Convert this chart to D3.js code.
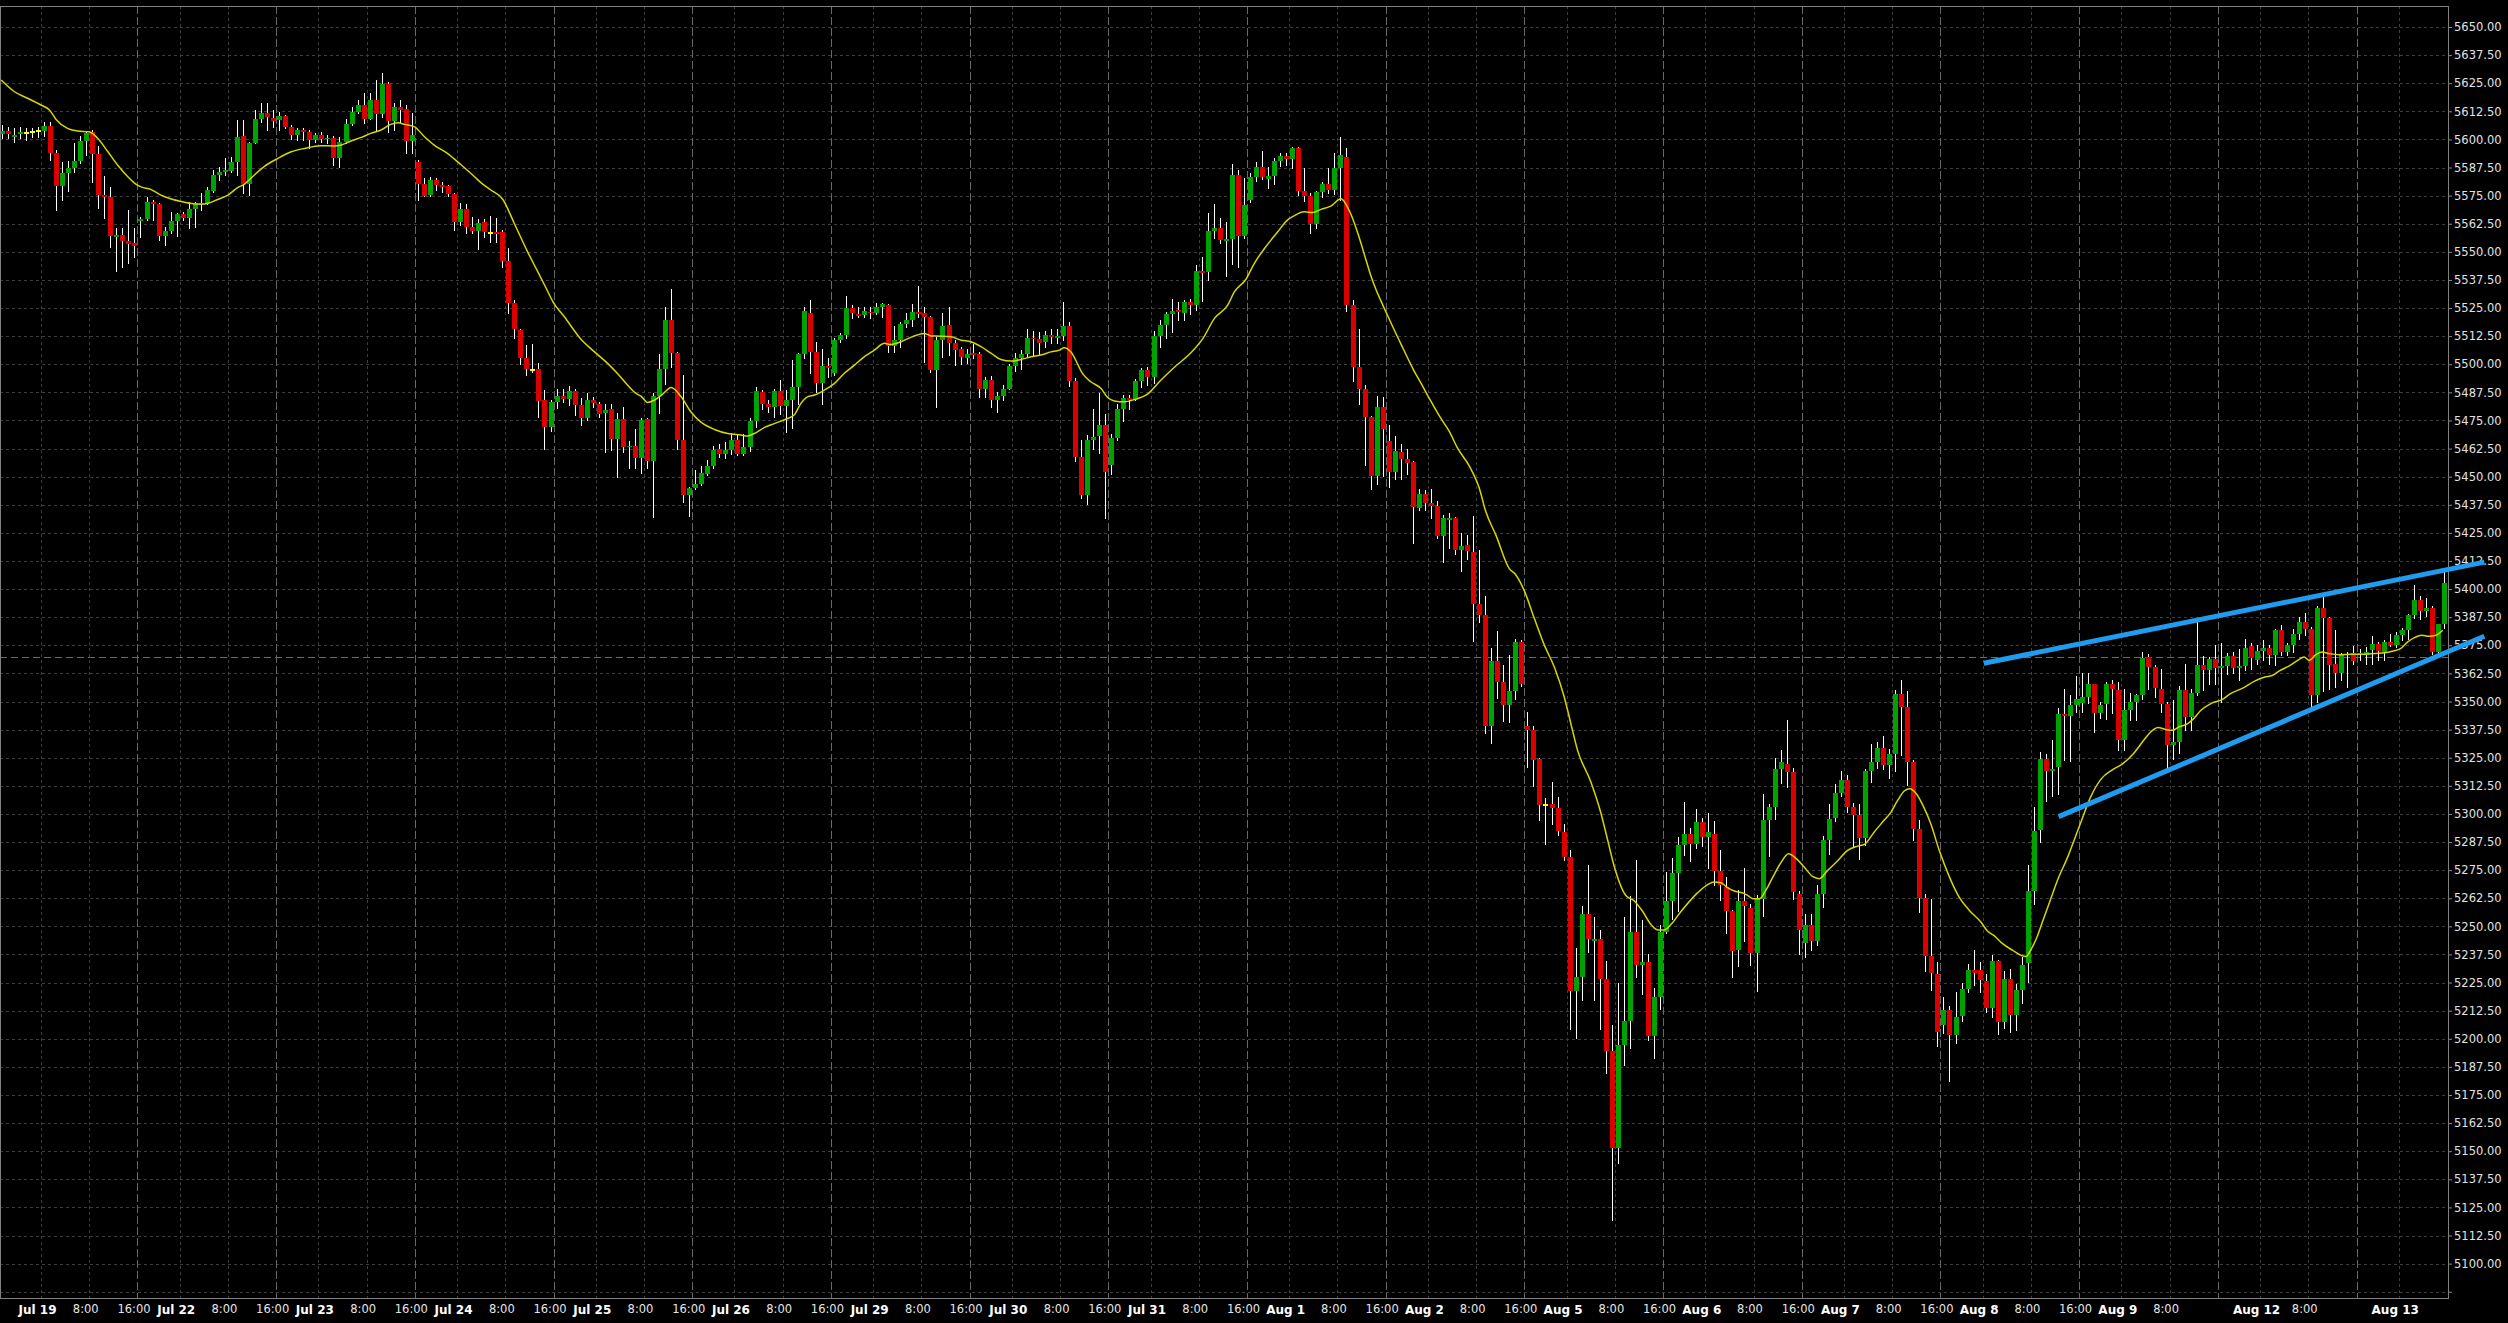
<!DOCTYPE html>
<html><head><meta charset="utf-8">
<script src="https://cdn.jsdelivr.net/npm/d3@7"></script>
<style>
html,body{margin:0;padding:0;background:#000;overflow:hidden;}
svg{display:block;}
</style></head><body>
<script>
// ---- DATA (hourly bars, first visible bar = Jul 18 late session) ----
const opens = [
5602.4,5603.9,5601.2,5602.4,5603.0,5603.1,5603.6,5603.9,5605.9,5593.8,
5579.2,5585.2,5587.4,5590.4,5599.3,5603.3,5593.5,5575.2,5574.5,5556.7,
5557.4,5554.8,5554.0,5563.7,5564.6,5572.3,5571.2,5557.1,5559.2,5563.7,
5566.8,5565.2,5569.0,5571.2,5571.8,5577.2,5584.1,5585.3,5586.1,5590.1,
5601.5,5580.1,5598.5,5609.1,5611.9,5609.5,5608.6,5610.4,5605.7,5601.9,
5604.2,5603.4,5599.7,5601.9,5600.0,5600.8,5591.9,5599.0,5606.8,5612.0,
5615.3,5609.1,5617.5,5611.3,5624.6,5608.3,5614.3,5613.4,5599.4,5590.1,
5580.1,5575.2,5581.9,5579.7,5579.2,5575.7,5563.4,5569.0,5561.2,5559.2,
5563.1,5558.5,5558.9,5558.9,5546.0,5527.3,5515.2,5502.9,5497.4,5498.1,
5484.0,5472.2,5483.0,5486.1,5484.6,5488.0,5481.8,5476.2,5484.3,5482.5,
5478.5,5480.0,5466.7,5475.6,5463.3,5463.8,5458.4,5475.6,5457.0,5486.1,
5497.8,5519.6,5505.1,5466.5,5441.8,5445.0,5446.6,5451.4,5454.6,5462.1,
5460.3,5461.8,5466.2,5460.0,5463.3,5474.8,5487.7,5482.5,5480.8,5488.0,
5481.5,5484.0,5489.7,5504.4,5523.0,5505.5,5491.7,5499.1,5496.3,5510.7,
5512.9,5525.1,5522.3,5522.1,5523.3,5522.9,5525.6,5526.3,5508.2,5511.0,
5518.1,5519.6,5523.2,5522.9,5520.8,5497.4,5510.7,5517.4,5509.5,5506.6,
5502.9,5504.8,5504.5,5489.2,5492.9,5484.3,5485.8,5489.2,5499.1,5503.0,
5504.5,5511.9,5511.2,5510.0,5512.9,5511.9,5512.5,5516.9,5492.5,5458.8,
5441.7,5466.5,5468.0,5472.9,5455.1,5467.4,5480.3,5485.2,5484.3,5492.5,
5497.4,5494.4,5512.5,5517.4,5522.3,5524.1,5522.9,5527.9,5526.4,5541.4,
5541.0,5559.2,5560.4,5554.9,5555.6,5584.1,5557.0,5573.0,5583.1,5587.6,
5582.2,5583.7,5590.4,5592.6,5591.3,5596.0,5577.2,5574.8,5562.6,5576.4,
5580.0,5577.5,5587.1,5592.0,5526.3,5498.9,5488.8,5476.6,5450.2,5480.8,
5465.8,5452.1,5461.0,5458.0,5456.4,5436.2,5442.3,5438.5,5436.9,5423.5,
5430.8,5431.5,5417.6,5419.7,5416.4,5393.3,5388.6,5339.1,5367.9,5358.7,
5348.6,5354.9,5376.4,5339.1,5337.3,5324.3,5303.8,5304.3,5302.6,5292.0,
5280.9,5221.4,5227.3,5255.5,5243.7,5244.4,5226.8,5194.7,5151.4,5197.1,
5207.7,5247.3,5232.7,5234.3,5201.3,5218.5,5247.7,5261.4,5273.9,5286.1,
5291.3,5286.6,5296.3,5289.7,5291.2,5274.6,5267.5,5256.8,5239.3,5261.5,
5258.3,5238.1,5262.3,5297.1,5303.1,5319.8,5322.3,5318.6,5264.5,5242.5,
5250.4,5243.7,5264.2,5288.2,5298.3,5309.4,5314.9,5303.1,5299.4,5289.3,
5319.1,5323.1,5329.3,5321.6,5326.5,5353.2,5347.6,5323.1,5293.1,5262.6,
5236.9,5228.9,5206.3,5212.9,5201.9,5210.3,5222.2,5230.4,5230.4,5225.9,
5213.6,5234.4,5207.4,5226.4,5210.4,5221.5,5233.6,5265.9,5292.7,5324.3,
5319.1,5320.9,5344.6,5343.5,5348.3,5349.3,5352.0,5357.6,5344.9,5348.8,
5357.6,5355.3,5333.0,5346.1,5349.8,5352.7,5369.8,5365.3,5355.7,5349.0,
5330.5,5332.0,5355.0,5343.1,5353.9,5366.1,5363.9,5368.8,5365.0,5365.6,
5370.1,5365.0,5365.6,5374.5,5368.6,5372.3,5373.8,5370.5,5381.7,5372.0,
5375.0,5380.2,5385.4,5382.4,5352.7,5391.6,5387.3,5366.5,5362.7,5371.0,
5371.6,5371.6,5370.5,5372.8,5375.7,5372.0,5376.5,5375.0,5379.4,5381.7,
5388.3,5395.0,5390.3,5391.6,5372.0,5384.3];
const highs = [
5606.4,5605.7,5604.9,5605.7,5604.9,5604.9,5605.7,5607.9,5607.9,5595.3,
5590.1,5590.5,5598.2,5601.5,5603.4,5604.2,5597.0,5583.7,5578.9,5560.4,
5560.4,5568.6,5560.4,5565.6,5574.5,5573.0,5571.8,5561.2,5567.8,5567.1,
5567.8,5572.3,5572.3,5576.0,5578.9,5586.4,5587.9,5591.6,5592.3,5608.6,
5608.6,5599.0,5613.1,5616.0,5616.0,5613.1,5612.3,5610.8,5606.4,5604.9,
5604.9,5604.2,5602.7,5603.4,5601.9,5601.5,5601.2,5609.3,5614.6,5617.5,
5620.5,5620.5,5626.4,5629.7,5625.7,5616.0,5617.5,5615.3,5611.6,5590.8,
5582.7,5583.1,5582.7,5581.2,5579.7,5576.3,5571.5,5571.2,5565.6,5564.4,
5564.4,5565.9,5565.0,5559.7,5551.5,5528.8,5515.9,5508.5,5509.2,5500.6,
5488.5,5484.3,5489.2,5489.2,5490.2,5489.2,5485.2,5487.0,5485.5,5483.3,
5482.5,5482.5,5478.4,5480.8,5465.8,5471.4,5475.9,5476.3,5487.0,5504.4,
5525.3,5533.4,5505.5,5495.1,5445.5,5452.9,5454.6,5457.6,5463.6,5464.4,
5465.5,5469.5,5468.4,5469.2,5475.9,5489.9,5488.5,5484.3,5488.8,5492.9,
5488.5,5501.8,5505.1,5525.3,5528.5,5510.0,5506.7,5502.6,5511.5,5513.7,
5530.3,5526.3,5525.6,5525.6,5525.3,5527.3,5527.3,5526.7,5516.9,5518.9,
5522.6,5527.0,5534.7,5525.3,5521.4,5512.2,5522.6,5525.6,5510.7,5507.8,
5506.6,5509.2,5505.5,5494.4,5494.7,5487.7,5490.7,5500.3,5504.8,5506.3,
5515.5,5514.9,5514.3,5514.9,5515.5,5515.5,5527.8,5518.7,5494.1,5466.2,
5468.4,5479.9,5487.0,5477.8,5469.2,5482.2,5486.2,5486.2,5493.5,5498.3,
5498.6,5514.9,5519.6,5523.3,5529.0,5527.8,5528.5,5529.0,5544.1,5547.8,
5567.1,5571.2,5564.9,5563.4,5588.9,5586.4,5582.7,5584.9,5590.1,5594.8,
5587.6,5591.6,5593.8,5593.8,5596.8,5596.5,5587.1,5576.0,5577.2,5581.2,
5587.1,5594.1,5601.2,5596.0,5528.8,5515.6,5490.7,5477.0,5485.8,5485.5,
5472.9,5468.0,5464.4,5462.5,5457.0,5444.4,5444.0,5444.7,5439.3,5432.9,
5433.8,5432.2,5425.1,5423.9,5432.7,5417.6,5396.9,5374.0,5381.5,5366.2,
5370.5,5378.0,5377.5,5345.5,5339.1,5325.0,5306.9,5314.4,5307.4,5295.6,
5283.8,5240.2,5259.0,5277.4,5254.3,5248.4,5234.8,5206.0,5224.9,5254.3,
5263.3,5279.5,5252.7,5237.8,5222.5,5250.8,5274.4,5280.3,5289.7,5305.4,
5293.7,5302.2,5298.4,5300.4,5296.7,5284.1,5271.9,5257.1,5266.0,5276.1,
5260.0,5263.8,5309.0,5304.3,5325.0,5328.6,5341.6,5320.6,5265.7,5255.6,
5255.6,5268.6,5290.0,5304.5,5313.4,5319.1,5317.2,5304.8,5304.3,5320.1,
5330.9,5332.0,5334.5,5329.0,5355.0,5359.5,5354.7,5323.8,5297.1,5264.5,
5262.3,5234.1,5218.8,5214.4,5220.7,5224.7,5233.4,5239.6,5234.1,5228.9,
5237.1,5235.1,5230.1,5231.1,5224.4,5236.3,5277.1,5303.1,5327.5,5326.8,
5332.7,5347.3,5355.7,5352.7,5361.2,5362.7,5362.7,5357.9,5349.8,5358.7,
5359.7,5358.7,5355.7,5353.8,5353.5,5372.0,5371.3,5366.1,5364.6,5349.8,
5350.5,5356.8,5366.5,5355.7,5385.4,5370.1,5369.8,5375.0,5376.0,5371.6,
5372.0,5373.5,5378.0,5376.0,5375.0,5377.2,5375.0,5382.4,5383.9,5376.0,
5382.4,5387.6,5389.4,5383.1,5392.4,5396.5,5387.6,5381.7,5371.6,5372.0,
5374.5,5373.5,5374.2,5379.0,5376.5,5377.2,5380.2,5380.9,5382.9,5389.1,
5401.7,5396.8,5396.2,5392.4,5384.6,5408.4];
const lows = [
5600.5,5600.5,5599.0,5600.5,5599.7,5600.9,5601.2,5601.5,5590.8,5568.6,
5573.0,5577.2,5585.6,5589.3,5593.0,5581.2,5569.6,5564.9,5552.3,5541.6,
5543.4,5545.2,5547.8,5556.7,5564.1,5564.1,5555.2,5553.0,5558.2,5557.0,
5564.1,5560.4,5561.2,5568.6,5571.2,5576.7,5581.9,5584.1,5585.6,5584.1,
5576.3,5575.2,5598.2,5607.9,5604.2,5605.7,5604.2,5604.9,5600.0,5599.7,
5599.7,5596.0,5599.0,5599.0,5598.2,5588.6,5587.9,5598.2,5606.4,5611.6,
5607.1,5609.0,5604.2,5610.1,5603.4,5604.2,5607.1,5594.1,5593.8,5573.0,
5574.8,5574.8,5577.5,5576.7,5574.8,5559.7,5561.9,5558.2,5558.5,5551.2,
5556.7,5554.5,5554.5,5543.4,5522.6,5511.5,5500.3,5495.2,5496.6,5476.6,
5462.1,5470.4,5480.6,5483.0,5481.8,5477.3,5472.9,5475.1,5481.1,5476.6,
5461.0,5461.8,5449.9,5461.0,5453.9,5453.9,5451.6,5453.9,5432.1,5478.4,
5491.0,5498.9,5462.5,5438.8,5432.5,5444.7,5446.2,5450.6,5453.9,5458.8,
5458.5,5460.3,5459.5,5459.5,5461.5,5472.2,5480.3,5478.8,5476.6,5478.1,
5470.0,5471.7,5482.5,5502.6,5495.9,5487.7,5482.5,5494.4,5495.1,5509.9,
5511.5,5520.4,5521.1,5520.8,5520.4,5522.3,5521.1,5505.5,5505.5,5507.5,
5516.6,5517.0,5521.1,5501.1,5496.6,5481.0,5503.3,5504.1,5499.6,5500.0,
5500.6,5502.6,5485.5,5485.5,5480.8,5478.8,5484.3,5488.8,5497.1,5498.1,
5503.6,5504.1,5504.5,5507.8,5509.5,5509.5,5510.7,5490.2,5457.0,5440.6,
5438.0,5462.1,5460.6,5431.7,5451.4,5466.2,5474.7,5480.3,5484.3,5489.9,
5490.7,5491.7,5507.5,5511.5,5514.3,5519.6,5519.9,5522.3,5524.1,5528.2,
5537.4,5556.0,5554.0,5539.2,5544.8,5543.3,5556.0,5572.3,5581.6,5582.2,
5578.2,5580.2,5588.2,5588.6,5587.1,5575.2,5572.7,5558.5,5560.4,5574.5,
5576.0,5575.7,5573.0,5523.8,5492.6,5482.5,5455.1,5444.7,5446.9,5450.2,
5445.5,5449.1,5449.1,5451.1,5420.4,5435.3,5435.0,5431.7,5422.8,5412.2,
5418.1,5415.7,5408.2,5413.3,5376.8,5385.5,5336.1,5331.4,5351.6,5341.5,
5341.0,5350.9,5356.8,5321.0,5312.5,5297.4,5286.6,5295.6,5290.8,5279.5,
5204.2,5200.2,5217.4,5238.5,5217.4,5204.2,5184.8,5119.3,5144.8,5188.4,
5196.1,5227.3,5219.7,5199.4,5191.4,5213.1,5247.0,5253.2,5256.7,5281.9,
5279.1,5284.9,5285.7,5276.0,5268.6,5261.8,5247.0,5227.4,5232.2,5243.4,
5232.6,5221.2,5254.4,5281.1,5297.9,5313.7,5312.0,5262.3,5237.8,5236.3,
5239.6,5241.5,5258.6,5282.0,5296.8,5307.8,5300.8,5285.3,5279.8,5286.4,
5314.2,5320.6,5320.1,5316.1,5319.1,5326.1,5312.7,5288.2,5256.3,5230.1,
5221.8,5196.7,5202.5,5181.1,5198.0,5207.8,5220.7,5224.1,5220.7,5211.8,
5209.9,5202.2,5204.9,5202.9,5203.9,5215.8,5225.2,5259.8,5287.5,5305.7,
5307.8,5309.0,5323.8,5323.5,5345.3,5345.3,5349.3,5336.4,5342.8,5342.4,
5344.9,5328.3,5328.6,5341.9,5341.9,5351.3,5355.7,5352.0,5345.3,5320.8,
5324.6,5327.1,5337.2,5337.5,5352.7,5355.0,5358.0,5358.0,5349.8,5362.1,
5362.7,5359.7,5363.9,5364.6,5366.8,5368.3,5366.5,5366.1,5370.5,5370.5,
5372.0,5377.9,5379.4,5347.9,5349.8,5354.7,5355.7,5356.4,5359.4,5356.4,
5366.5,5368.3,5366.5,5366.8,5368.3,5368.6,5374.5,5374.2,5377.5,5378.0,
5387.3,5386.9,5387.9,5371.0,5371.3,5382.9];
const closes = [
5603.9,5602.4,5601.9,5603.4,5603.0,5603.1,5603.6,5605.9,5594.1,5579.2,
5584.9,5587.4,5590.4,5599.3,5602.7,5593.5,5575.2,5574.2,5557.1,5557.4,
5554.8,5553.7,5552.7,5564.4,5572.0,5571.2,5557.1,5559.2,5563.7,5566.8,
5565.2,5569.0,5571.5,5571.8,5577.5,5584.1,5585.3,5586.4,5590.1,5600.9,
5580.1,5598.5,5609.1,5611.9,5610.1,5608.3,5610.4,5605.7,5601.9,5604.2,
5603.4,5599.7,5601.9,5600.2,5600.8,5591.9,5599.0,5606.8,5612.0,5615.3,
5609.1,5617.5,5611.3,5624.6,5608.3,5614.3,5613.1,5599.4,5601.9,5580.3,
5574.9,5581.9,5579.7,5578.7,5575.7,5563.4,5569.0,5561.2,5559.2,5562.9,
5558.9,5558.5,5558.0,5546.0,5527.3,5515.5,5502.9,5497.7,5497.4,5483.7,
5472.2,5483.0,5485.8,5484.6,5488.0,5481.8,5476.2,5484.3,5482.8,5478.1,
5479.6,5466.7,5475.6,5463.3,5463.8,5458.4,5475.1,5457.0,5486.1,5497.8,
5519.6,5505.1,5466.5,5441.8,5445.0,5446.6,5451.7,5454.6,5461.8,5460.3,
5461.8,5466.2,5460.0,5463.3,5474.8,5488.0,5482.5,5480.8,5488.0,5481.5,
5484.0,5489.7,5504.4,5523.6,5505.5,5491.7,5499.1,5498.4,5510.7,5512.9,
5525.1,5522.9,5521.5,5523.6,5522.6,5525.6,5526.7,5508.2,5511.0,5518.1,
5519.6,5523.2,5522.3,5521.1,5497.4,5510.7,5516.9,5509.5,5506.3,5503.3,
5504.5,5504.0,5489.2,5492.9,5484.3,5485.8,5489.2,5499.1,5503.0,5504.5,
5511.9,5511.2,5509.5,5512.9,5512.2,5512.5,5516.9,5492.5,5458.8,5441.7,
5466.2,5467.7,5472.9,5452.1,5467.4,5480.3,5485.2,5484.3,5492.5,5497.4,
5494.4,5512.5,5517.4,5522.3,5523.5,5523.3,5527.6,5526.4,5541.4,5540.7,
5559.2,5560.4,5555.2,5555.6,5584.1,5557.0,5570.8,5583.1,5587.6,5583.1,
5583.7,5590.4,5592.6,5591.1,5596.0,5577.2,5574.8,5562.6,5576.4,5580.0,
5577.5,5587.1,5593.0,5526.3,5498.9,5488.8,5476.6,5450.2,5480.8,5471.0,
5452.1,5461.3,5458.0,5456.1,5436.3,5442.1,5438.1,5436.9,5423.5,5431.5,
5431.5,5417.4,5419.2,5416.9,5393.3,5388.6,5339.1,5367.9,5358.7,5348.6,
5354.9,5376.4,5358.0,5337.5,5323.8,5303.8,5303.8,5302.6,5292.5,5280.9,
5221.4,5227.3,5255.5,5244.4,5244.4,5226.8,5194.7,5151.4,5197.1,5207.7,
5247.3,5232.7,5234.3,5201.3,5218.5,5247.7,5261.4,5273.9,5286.1,5291.3,
5286.6,5296.3,5289.7,5291.8,5274.6,5268.2,5256.8,5239.0,5261.5,5259.0,
5238.1,5262.3,5297.1,5303.1,5319.8,5323.1,5318.6,5265.2,5248.2,5250.8,
5243.4,5264.2,5288.2,5297.9,5309.4,5314.9,5303.1,5299.4,5289.3,5319.1,
5323.1,5329.3,5321.6,5326.5,5353.2,5347.6,5323.1,5293.1,5262.6,5236.9,
5229.2,5202.9,5212.6,5201.9,5209.9,5222.2,5230.4,5229.3,5226.2,5213.6,
5234.4,5207.4,5226.4,5210.4,5221.5,5233.0,5265.7,5292.4,5324.3,5319.1,
5320.1,5344.3,5343.5,5348.3,5351.2,5352.0,5357.6,5344.9,5348.3,5357.6,
5355.7,5333.0,5346.1,5349.8,5352.7,5369.4,5365.3,5356.0,5349.0,5330.5,
5332.0,5355.0,5343.1,5353.9,5366.1,5363.9,5368.8,5365.0,5365.6,5370.1,
5365.0,5365.6,5373.9,5369.5,5372.3,5373.8,5370.5,5381.7,5372.0,5375.0,
5380.2,5385.4,5382.4,5352.7,5391.6,5387.3,5366.1,5362.7,5371.0,5370.5,
5368.0,5370.5,5372.0,5375.4,5372.5,5376.5,5375.0,5379.4,5381.7,5388.3,
5395.0,5390.3,5391.6,5372.0,5384.3,5402.7];

// moving average : bar position -> value
const maBar = [
-0.1,2.1,4.3,6.5,7.9,9.0,10.9,12.6,14.5,15.9,
17.6,19.2,20.9,22.3,23.1,24.7,26.4,28.1,29.7,31.4,
33.0,34.1,35.8,37.5,39.1,40.2,41.3,43.5,45.8,48.0,
50.2,52.9,55.1,56.3,57.9,59.6,61.2,62.9,64.5,65.7,
66.8,68.4,70.1,71.7,73.9,76.2,78.4,79.5,81.1,83.1,
85.0,87.2,88.9,90.3,91.4,93.3,96.1,98.3,100.5,102.1,
103.8,105.2,106.0,107.1,108.2,109.6,111.0,112.6,114.3,115.9,
118.2,120.4,122.6,123.7,124.8,126.5,128.1,130.3,131.4,132.5,
133.6,134.8,136.4,138.1,139.7,141.4,143.0,144.7,146.4,147.4,
149.1,151.3,153.0,154.1,155.8,157.4,159.1,160.7,162.4,164.1,
165.7,167.4,169.0,170.7,172.3,174.0,175.4,176.2,177.3,179.3,
180.6,182.3,183.4,184.5,186.2,187.8,190.0,192.2,194.5,197.2,
199.2,201.1,203.3,204.4,206.3,207.7,209.4,211.6,213.2,214.3,
216.0,217.4,218.8,220.4,222.1,223.2,224.9,226.0,227.1,229.8,
232.0,234.2,235.4,236.9,238.4,240.1,241.4,243.4,245.0,246.1,
247.8,250.0,251.1,252.5,254.1,255.8,257.5,259.1,260.2,261.3,
263.5,265.2,266.3,267.4,269.3,270.7,272.1,273.5,274.6,275.7,
276.8,278.5,281.2,282.9,284.0,285.1,286.2,287.3,288.7,289.5,
290.4,291.5,292.6,293.7,295.1,296.3,297.6,298.9,300.3,301.4,
302.8,304.5,306.1,307.8,308.9,310.5,311.9,313.3,314.4,315.5,
316.4,317.5,318.6,319.9,321.3,323.0,324.6,326.3,328.2,329.3,
330.4,331.8,333.5,334.9,335.7,336.5,337.4,338.5,339.8,340.9,
342.6,344.9,346.4,348.2,350.0,351.7,353.5,355.0,356.1,357.6,
358.8,360.0,361.2,362.3,363.5,364.7,366.5,368.2,369.4,371.8,
373.6,375.3,376.5,377.7,379.5,381.2,381.8,382.7,383.6,384.8,
386.0,387.7,389.5,391.3,393.0,394.8,396.6,397.8,399.0,400.1,
401.3,402.5,403.7,404.8];
const maValue = [
5626.4,5621.2,5618.3,5615.3,5613.1,5608.9,5604.9,5603.7,5603.4,5600.5,
5594.5,5588.6,5583.4,5580.0,5578.9,5577.8,5575.2,5573.5,5572.4,5571.5,
5571.2,5571.5,5573.3,5575.2,5578.6,5580.0,5582.7,5587.9,5591.6,5594.5,
5596.0,5597.2,5597.1,5597.5,5599.3,5600.9,5602.7,5604.2,5606.7,5607.4,
5606.7,5605.7,5601.2,5597.5,5593.8,5588.6,5583.4,5580.7,5577.5,5573.3,
5562.6,5550.0,5541.1,5533.7,5527.8,5521.1,5511.0,5505.5,5500.3,5495.9,
5490.7,5487.0,5485.8,5483.0,5484.0,5486.7,5489.7,5485.8,5478.8,5474.4,
5471.0,5469.2,5468.5,5468.1,5469.2,5471.9,5473.6,5475.9,5477.4,5482.5,
5485.5,5486.3,5488.5,5491.5,5495.9,5499.6,5503.3,5506.3,5509.3,5508.8,
5510.0,5512.6,5513.7,5512.6,5512.5,5512.2,5510.7,5510.0,5507.8,5504.8,
5502.1,5501.4,5502.1,5503.3,5504.1,5505.5,5506.3,5507.3,5505.5,5495.6,
5492.2,5489.2,5485.2,5483.7,5483.3,5484.3,5486.7,5492.9,5498.8,5505.1,
5511.5,5520.4,5526.3,5532.2,5537.7,5544.8,5551.5,5558.9,5564.1,5566.0,
5567.8,5567.5,5568.9,5570.3,5573.6,5569.8,5558.2,5548.5,5538.9,5521.8,
5509.2,5497.1,5491.4,5484.0,5477.0,5469.9,5462.8,5454.6,5445.1,5434.5,
5423.9,5409.1,5406.3,5399.2,5387.4,5375.2,5365.1,5352.1,5340.3,5328.5,
5314.4,5300.3,5288.5,5276.7,5263.8,5261.4,5256.7,5250.8,5248.4,5248.4,
5250.8,5256.7,5264.9,5268.6,5269.7,5269.4,5267.2,5265.7,5264.9,5263.8,
5262.3,5262.3,5266.3,5271.9,5278.6,5282.3,5280.1,5276.4,5272.2,5271.2,
5274.9,5279.3,5283.8,5285.7,5286.5,5291.9,5296.4,5300.8,5306.0,5310.2,
5311.2,5309.0,5303.8,5295.6,5283.8,5271.9,5263.0,5257.1,5251.9,5247.9,
5245.9,5242.3,5239.3,5237.1,5236.6,5239.6,5244.5,5252.6,5262.3,5270.4,
5280.8,5297.1,5307.5,5315.7,5319.6,5322.3,5326.8,5332.0,5335.7,5338.4,
5337.6,5337.2,5338.9,5339.8,5342.4,5346.1,5349.3,5350.8,5353.2,5356.2,
5359.1,5360.9,5361.6,5363.6,5366.1,5369.1,5369.8,5368.3,5370.5,5372.0,
5371.3,5370.8,5371.0,5371.0,5371.3,5371.6,5372.5,5373.5,5376.5,5378.4,
5379.5,5379.0,5379.5,5381.7];

// time axis: bar position of each grid line and its label
const xTickBar = [7,15,23,30,38,46,53,61,69,76,84,92,99,107,115,122,130,138,145,153,161,
  168,176,184,191,199,207,214,222,230,237,245,253,260,268,276,283,291,299,306,314,322,
  329,337,345,352,360,368,375,383,391,398];
const xTickLabel = ["Jul 19","8:00","16:00","Jul 22","8:00","16:00","Jul 23","8:00","16:00",
  "Jul 24","8:00","16:00","Jul 25","8:00","16:00","Jul 26","8:00","16:00","Jul 29","8:00","16:00",
  "Jul 30","8:00","16:00","Jul 31","8:00","16:00","Aug 1","8:00","16:00","Aug 2","8:00","16:00",
  "Aug 5","8:00","16:00","Aug 6","8:00","16:00","Aug 7","8:00","16:00","Aug 8","8:00","16:00",
  "Aug 9","8:00","","Aug 12","8:00","","Aug 13"];
const separatorBar = [23,46,69,92,115,138,161,184,207,230,253,276,299,322,345,368,391];

// price axis
const yTicks = [5087.5,5100,5112.5,5125,5137.5,5150,5162.5,5175,5187.5,5200,5212.5,5225,5237.5,
  5250,5262.5,5275,5287.5,5300,5312.5,5325,5337.5,5350,5362.5,5375,5387.5,5400,5412.5,5425,
  5437.5,5450,5462.5,5475,5487.5,5500,5512.5,5525,5537.5,5550,5562.5,5575,5587.5,5600,5612.5,
  5625,5637.5,5650];
const firstLabelledPrice = 5100;
const priceLine = 5370.0;

// hand-drawn trend lines: [bar position, price]
const upperTrend = [[328.7, 5367.0], [411.7, 5412.0]];
const lowerTrend = [[341.1, 5298.8], [411.7, 5379.0]];

// ---- CHART ----
const W = 2508, H = 1323;
const plot = {left: 0, right: 2448, top: 6, bottom: 1298};
const n = closes.length;
const step = 6.03;
const x = d3.scaleLinear().domain([0, n - 1]).range([1.79, 1.79 + step * (n - 1)]);
const y = d3.scaleLinear().domain([5084.71, 5659.34]).range([plot.bottom, plot.top]);

const svg = d3.select("body").append("svg").attr("width", W).attr("height", H);
svg.append("rect").attr("width", W).attr("height", H).attr("fill", "#000");
svg.append("defs").append("clipPath").attr("id", "plotClip")
  .append("rect").attr("x", plot.left).attr("y", plot.top)
  .attr("width", plot.right - plot.left).attr("height", plot.bottom - plot.top);

const px = v => Math.round(v) + 0.5;

// grid
const grid = svg.append("g").attr("shape-rendering", "crispEdges");
grid.selectAll("line.gh").data(yTicks).join("line").attr("class", "gh")
  .attr("x1", plot.left).attr("x2", plot.right)
  .attr("y1", d => px(y(d))).attr("y2", d => px(y(d)))
  .attr("stroke", "#3e3e3e").attr("stroke-dasharray", "3,3");
const sepSet = new Set(separatorBar);
grid.selectAll("line.gv").data(xTickBar.filter(b => !sepSet.has(b))).join("line").attr("class", "gv")
  .attr("x1", d => px(x(d - 0.5))).attr("x2", d => px(x(d - 0.5)))
  .attr("y1", plot.top).attr("y2", plot.bottom)
  .attr("stroke", "#3e3e3e").attr("stroke-dasharray", "3,3");
grid.selectAll("line.gs").data(separatorBar).join("line").attr("class", "gs")
  .attr("x1", d => px(x(d - 0.5))).attr("x2", d => px(x(d - 0.5)))
  .attr("y1", plot.top).attr("y2", plot.bottom)
  .attr("stroke", "#686868").attr("stroke-dasharray", "8,3");
grid.append("line")
  .attr("x1", plot.left).attr("x2", plot.right)
  .attr("y1", px(y(priceLine))).attr("y2", px(y(priceLine)))
  .attr("stroke", "#6a6a6a").attr("stroke-dasharray", "7,4");

// candles
const bars = d3.range(n).map(i => ({i, o: opens[i], h: highs[i], l: lows[i], c: closes[i]}));
const cg = svg.append("g").attr("clip-path", "url(#plotClip)").attr("shape-rendering", "crispEdges");
cg.selectAll("line.wick").data(bars).join("line").attr("class", "wick")
  .attr("x1", d => px(x(d.i))).attr("x2", d => px(x(d.i)))
  .attr("y1", d => Math.round(y(d.h))).attr("y2", d => Math.round(y(d.l)) + 1)
  .attr("stroke", "#ffffff").attr("stroke-width", 1);
cg.selectAll("rect.body").data(bars).join("rect").attr("class", "body")
  .attr("x", d => Math.round(x(d.i)) - 2)
  .attr("width", 5)
  .attr("y", d => d.o === d.c ? Math.round(y(d.o)) - 1 : Math.round(y(Math.max(d.o, d.c))))
  .attr("height", d => d.o === d.c ? 2 : Math.max(1, Math.round(y(Math.min(d.o, d.c))) - Math.round(y(Math.max(d.o, d.c)))))
  .attr("fill", d => d.o === d.c ? "#ffff00" : (d.c > d.o ? "#00a200" : "#da0000"));

// moving average
const maPts = d3.range(Math.min(maBar.length, maValue.length)).map(k => [maBar[k], maValue[k]]);
svg.append("path").attr("clip-path", "url(#plotClip)")
  .datum(maPts)
  .attr("d", d3.line().x(d => x(d[0])).y(d => y(d[1])).curve(d3.curveMonotoneX))
  .attr("fill", "none").attr("stroke", "#d6d600").attr("stroke-width", 1.5);

// axes
const yAxis = d3.axisRight(y).tickValues(yTicks).tickSize(4).tickPadding(2)
  .tickFormat(v => v >= firstLabelledPrice ? d3.format(".2f")(v) : "");
const ya = svg.append("g").attr("transform", `translate(${plot.right},0)`).call(yAxis);
ya.select(".domain").remove();
ya.selectAll(".tick line").attr("stroke", "#8a8a8a");
ya.selectAll(".tick text").attr("fill", "#e2e2e2")
  .attr("font-family", "DejaVu Sans, Verdana, sans-serif").attr("font-size", 11.5);

const isDate = k => /^[A-Z]/.test(xTickLabel[k]);
const xAxis = d3.axisBottom(x).tickValues(xTickBar.map(b => b - 0.5)).tickSize(0).tickPadding(7)
  .tickFormat((d, k) => xTickLabel[k]);
const xa = svg.append("g").attr("transform", `translate(0,${plot.bottom})`).call(xAxis);
xa.select(".domain").remove();
xa.selectAll(".tick text")
  .attr("dx", -4)
  .attr("fill", (d, k) => isDate(k) ? "#ffffff" : "#e6e6e6")
  .attr("font-weight", (d, k) => isDate(k) ? "bold" : "normal")
  .attr("font-family", "DejaVu Sans, Verdana, sans-serif")
  .attr("font-size", (d, k) => isDate(k) ? 12 : 11.5);

// frame
svg.append("rect").attr("x", plot.left + 0.5).attr("y", plot.top + 0.5)
  .attr("width", plot.right - plot.left).attr("height", plot.bottom - plot.top)
  .attr("fill", "none").attr("stroke", "#808080").attr("shape-rendering", "crispEdges");

// trend lines (drawn over everything, extending into the price axis)
const tl = d3.line().x(d => x(d[0])).y(d => y(d[1]));
[upperTrend, lowerTrend].forEach(t => {
  svg.append("path").datum(t).attr("d", tl)
    .attr("fill", "none").attr("stroke", "#1f9cf0").attr("stroke-width", 5)
    .attr("stroke-linecap", "butt");
});
</script>
</body></html>
